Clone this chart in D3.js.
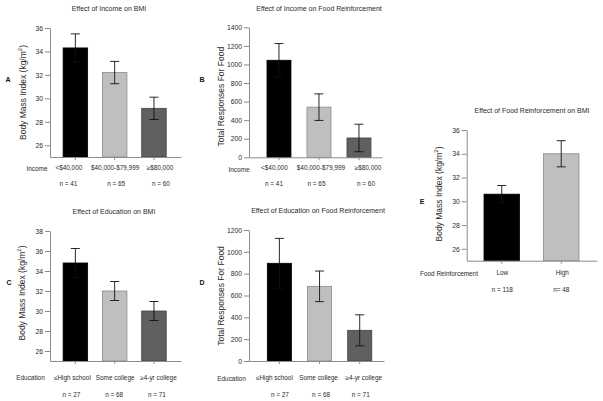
<!DOCTYPE html>
<html><head><meta charset="utf-8">
<script src="https://cdn.jsdelivr.net/npm/d3@7"></script>
<style>
body{margin:0;background:#fff;}
svg{display:block;font-family:"Liberation Sans",Arial,Helvetica,sans-serif;}
</style></head>
<body>
<svg id="chart" width="603" height="401"></svg>
<script>
// ---- data ----
const incomeCats = ["<$40,000", "$40,000-$79,999", "\u2265$80,000"];
const incomeN = ["n = 41", "n = 65", "n = 60"];
const incomeBMI = [34.3, 32.2, 29.15];
const incomeBMIErr = [1.2, 0.95, 0.95];
const incomeFood = [1045, 540, 208];
const incomeFoodErr = [180, 143, 148];

const eduCats = ["\u2264High school", "Some college", "\u22654-yr college"];
const eduN = ["n = 27", "n = 68", "n = 71"];
const eduBMI = [34.8, 32.0, 30.0];
const eduBMIErr = [1.45, 0.95, 0.95];
const eduFood = [895, 684, 281];
const eduFoodErr = [228, 140, 142];

const frCats = ["Low", "High"];
const frN = ["n = 118", "n= 48"];
const frBMI = [30.6, 34.0];
const frBMIErr = [0.73, 1.1];

const bmiTicksA = [26, 28, 30, 32, 34, 36];
const bmiTicksC = [26, 28, 30, 32, 34, 36, 38];
const foodTicksB = [0, 200, 400, 600, 800, 1000, 1200, 1400];
const foodTicksD = [0, 200, 400, 600, 800, 1000, 1200];

const titles = ["Effect of Income on BMI", "Effect of Income on Food Reinforcement",
  "Effect of Education on BMI", "Effect of Education on Food Reinforcement",
  "Effect of Food Reinforcement on BMI"];

const barFill = ["#000000", "#bfbfbf", "#606060"];
const barStroke = ["#000000", "#8a8a8a", "#444444"];

const svg = d3.select("#chart");
const axisColor = "#8c8c8c";
const textColor = "#2a2a2a";

function panel(p) {
  const g = svg.append("g");
  const x = d3.scaleBand().domain(p.cats).range([p.x0, p.x1])
    .paddingInner(p.pi).paddingOuter(p.po).align(p.align);
  const y = d3.scaleLinear().domain(p.ydom).range([p.yb, p.yt]);
  const cx = i => x(p.cats[i]) + x.bandwidth() / 2;

  // bars
  g.selectAll("rect.bar").data(p.vals).enter().append("rect")
    .attr("x", (d, i) => x(p.cats[i]))
    .attr("width", x.bandwidth())
    .attr("y", d => y(d))
    .attr("height", d => y(p.ydom[0]) - y(d))
    .attr("fill", (d, i) => barFill[i])
    .attr("stroke", (d, i) => barStroke[i])
    .attr("stroke-width", 0.8);

  // error bars
  const cap = 4.5;
  p.vals.forEach((v, i) => {
    const e = p.errs[i];
    const eg = g.append("g").attr("stroke", "#111").attr("stroke-width", 0.9);
    eg.append("line").attr("x1", cx(i)).attr("x2", cx(i)).attr("y1", y(v + e)).attr("y2", y(v - e));
    eg.append("line").attr("x1", cx(i) - cap).attr("x2", cx(i) + cap).attr("y1", y(v + e)).attr("y2", y(v + e));
    eg.append("line").attr("x1", cx(i) - cap).attr("x2", cx(i) + cap).attr("y1", y(v - e)).attr("y2", y(v - e));
  });

  // y axis
  const ya = g.append("g").attr("transform", `translate(${p.x0},0)`)
    .call(d3.axisLeft(y).tickValues(p.yticks).tickFormat(d3.format("d"))
      .tickSize(5).tickPadding(2).tickSizeOuter(0));
  ya.select(".domain").attr("stroke", axisColor);
  ya.selectAll(".tick line").attr("stroke", axisColor);
  ya.selectAll(".tick text").attr("fill", textColor).attr("font-size", 6.8).attr("font-family", null);

  // x axis
  const xa = g.append("g").attr("transform", `translate(0,${p.yb})`)
    .call(d3.axisBottom(x).tickSize(3).tickPadding(p.xpad).tickSizeOuter(0));
  xa.select(".domain").attr("stroke", axisColor);
  xa.selectAll(".tick line").attr("stroke", axisColor);
  xa.selectAll(".tick text").attr("fill", textColor).attr("font-size", 6.4).attr("font-family", null)
    .attr("dx", (d, i) => p.ldx[i]);

  // n labels
  g.selectAll("text.n").data(p.ns).enter().append("text")
    .attr("x", (d, i) => cx(i) + p.ndx[i])
    .attr("y", p.ny).attr("dy", "0.35em")
    .attr("text-anchor", "middle").attr("font-size", 6.4).attr("fill", textColor)
    .text(d => d);

  // row label
  g.append("text").attr("x", p.rowX).attr("y", p.rowY).attr("dy", "0.35em")
    .attr("text-anchor", "middle").attr("font-size", 6.4).attr("fill", textColor)
    .text(p.rowLabel);

  // title
  g.append("text").attr("x", p.tx).attr("y", p.ty).attr("dy", "0.35em")
    .attr("text-anchor", "middle").attr("font-size", 7).attr("fill", textColor)
    .text(p.title);

  // y label
  const yl = g.append("text")
    .attr("transform", `translate(${p.ylx},${p.yly}) rotate(-90)`)
    .attr("dy", "0.35em").attr("text-anchor", "middle")
    .attr("font-size", 8.5).attr("fill", textColor);
  if (p.bmi) {
    yl.append("tspan").text("Body Mass Index (kg/m");
    yl.append("tspan").attr("font-size", 6).attr("dy", "-0.6em").text("2");
    yl.append("tspan").attr("dy", "0.45em").text(")");
  } else {
    yl.text("Total Responses For Food");
  }

  // panel letter
  g.append("text").attr("x", p.lx).attr("y", p.ly).attr("dy", "0.35em")
    .attr("text-anchor", "middle").attr("font-size", 7).attr("font-weight", "bold")
    .attr("fill", "#111").text(p.letter);
}

panel({cats: incomeCats, vals: incomeBMI, errs: incomeBMIErr, ns: incomeN,
  x0: 50, x1: 181, pi: 0.376, po: 0.355, align: 0.47, ydom: [25, 36], yb: 157, yt: 28,
  yticks: bmiTicksA, xpad: 5, ldx: [-6.5, 0.5, 6], ndx: [-7, 1.5, 7],
  ny: 183.3, rowLabel: "Income", rowX: 37, rowY: 168.3,
  title: titles[0], tx: 109, ty: 9, bmi: true, ylx: 23, yly: 92.5, letter: "A", lx: 8, ly: 80});

panel({cats: incomeCats, vals: incomeFood, errs: incomeFoodErr, ns: incomeN,
  x0: 249, x1: 382, pi: 0.4, po: 0.3625, align: 0.62, ydom: [0, 1400], yb: 157.3, yt: 27.3,
  yticks: foodTicksB, xpad: 5.5, ldx: [-4.5, 2, 9], ndx: [-5, -2.5, 7],
  ny: 183.3, rowLabel: "Income", rowX: 239, rowY: 169.3,
  title: titles[1], tx: 319, ty: 9, bmi: false, ylx: 220.7, yly: 96.7, letter: "B", lx: 202, ly: 80});

panel({cats: eduCats, vals: eduBMI, errs: eduBMIErr, ns: eduN,
  x0: 50, x1: 181, pi: 0.376, po: 0.355, align: 0.47, ydom: [25, 38], yb: 361, yt: 231,
  yticks: bmiTicksC, xpad: 11, ldx: [-3, 0.5, 4.5], ndx: [-4, -0.5, 3],
  ny: 394.3, rowLabel: "Education", rowX: 30.5, rowY: 378,
  title: titles[2], tx: 114, ty: 212, bmi: true, ylx: 22, yly: 293, letter: "C", lx: 9, ly: 283});

panel({cats: eduCats, vals: eduFood, errs: eduFoodErr, ns: eduN,
  x0: 249, x1: 384, pi: 0.4, po: 0.38, align: 0.6, ydom: [0, 1200], yb: 361, yt: 230,
  yticks: foodTicksD, xpad: 11.5, ldx: [-5, -1, 4], ndx: [0.5, 1.5, 1],
  ny: 395, rowLabel: "Education", rowX: 231.5, rowY: 379,
  title: titles[3], tx: 318, ty: 211, bmi: false, ylx: 220.7, yly: 296, letter: "D", lx: 202, ly: 283});

panel({cats: frCats, vals: frBMI, errs: frBMIErr, ns: frN,
  x0: 466.7, x1: 597, pi: 0.403, po: 0.297, align: 0.49, ydom: [25, 36], yb: 260.7, yt: 130,
  yticks: bmiTicksA, xpad: 6.4, ldx: [0.5, 1], ndx: [0.5, 0],
  ny: 289.3, rowLabel: "Food Reinforcement", rowX: 449, rowY: 273.3,
  title: titles[4], tx: 532, ty: 111, bmi: true, ylx: 439, yly: 194, letter: "E", lx: 422, ly: 202});
</script>
</body></html>
